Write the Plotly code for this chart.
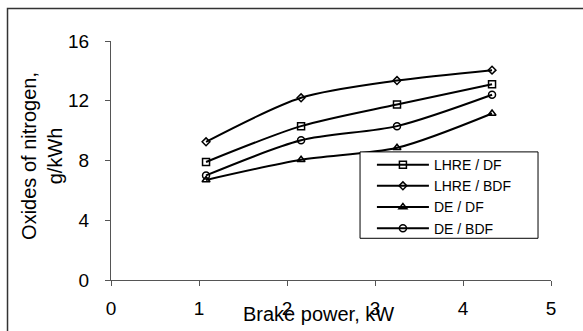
import plotly.graph_objects as go

brake_power = [1.08, 2.16, 3.25, 4.33]
lhre_df = [7.9, 10.3, 11.75, 13.1]
lhre_bdf = [9.25, 12.2, 13.35, 14.05]
de_df = [6.7, 8.05, 8.85, 11.15]
de_bdf = [7.0, 9.35, 10.3, 12.4]

series = [
    ("LHRE / DF", lhre_df, "square-open", 7),
    ("LHRE / BDF", lhre_bdf, "diamond-open", 6),
    ("DE / DF", de_df, "triangle-up-open", 7),
    ("DE / BDF", de_bdf, "circle-open", 7),
]

FONT = "Liberation Sans, Arial, sans-serif"

fig = go.Figure()
for name, vals, sym, sz in series:
    fig.add_trace(go.Scatter(
        x=brake_power, y=vals, name=name, mode="lines+markers",
        line=dict(color="black", width=2, shape="spline", smoothing=0.8),
        marker=dict(symbol=sym, size=sz, color="black", line=dict(width=1.5, color="black")),
    ))

fig.update_layout(
    width=583, height=331,
    margin=dict(l=111, r=32, t=41, b=49),
    paper_bgcolor="white", plot_bgcolor="white",
    font=dict(family=FONT, color="black"),
    showlegend=True,
    legend=dict(
        x=0.593, y=0.548, xanchor="left", yanchor="top",
        bgcolor="rgba(0,0,0,0)", borderwidth=0,
        font=dict(size=14, family=FONT, color="black"),
        itemwidth=52,
        tracegroupgap=0,
    ),
    xaxis=dict(
        range=[0, 5], tickvals=[0, 1, 2, 3, 4, 5], showgrid=False, zeroline=False,
        showline=True, linecolor="#555", linewidth=1,
        ticks="outside", ticklen=5, tickcolor="#555", tickwidth=1,
        tickfont=dict(size=19, family=FONT, color="black"),
        ticklabelstandoff=6,
    ),
    yaxis=dict(
        range=[0, 16], tickvals=[0, 4, 8, 12, 16], showgrid=False, zeroline=False,
        showline=True, linecolor="#555", linewidth=1,
        ticks="outside", ticklen=5, tickcolor="#555", tickwidth=1,
        tickfont=dict(size=19, family=FONT, color="black"),
        ticklabelstandoff=12,
    ),
    annotations=[
        dict(text="Oxides of nitrogen,<br>g/kWh", textangle=-90, xref="paper", yref="paper",
             x=-0.157, y=0.519, xanchor="center", yanchor="middle", showarrow=False,
             font=dict(size=20, family=FONT, color="black")),
        dict(text="Brake power, kW", xref="paper", yref="paper",
             x=0.4705, y=-0.141, xanchor="center", yanchor="middle", showarrow=False,
             font=dict(size=20, family=FONT, color="black")),
    ],
    shapes=[
        dict(type="rect", xref="paper", yref="paper",
             x0=-0.2352, y0=-0.4, x1=1.3, y1=1.136,
             line=dict(color="#333", width=1.5), fillcolor="rgba(0,0,0,0)", layer="below"),
        dict(type="rect", xref="paper", yref="paper",
             x0=0.566, y0=0.1745, x1=0.9705, y1=0.536,
             line=dict(color="black", width=1), fillcolor="white", layer="above"),
    ],
)

fig.write_html("out.html")
